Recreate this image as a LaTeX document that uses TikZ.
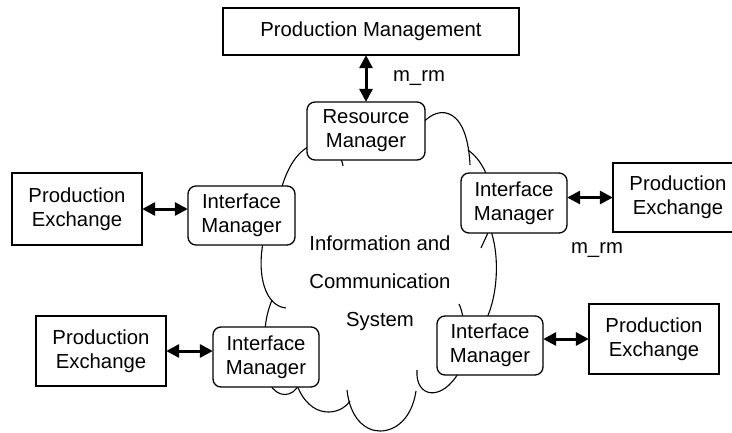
\documentclass[tikz,border=0pt]{standalone}
\usepackage{fontspec}
\setmainfont{Liberation Sans}
\usetikzlibrary{arrows.meta}
\begin{document}
\begin{tikzpicture}[x=1pt,y=-1pt,
  lbl/.style={font=\fontsize{20.3}{24}\selectfont},
  sqbox/.style={draw, line width=1.3pt, fill=white, inner sep=0pt, align=center, lbl},
  rbox/.style={sqbox, rounded corners=8pt},
  arr/.style={line width=3pt, {Triangle[length=13pt,width=13pt]}-{Triangle[length=13pt,width=13pt]}, shorten <=-0.5pt, shorten >=-0.5pt},
  cloudline/.style={line width=1.1pt}]
\useasboundingbox (0,0) rectangle (732,432);
% cloud arcs
\begin{scope}[cloudline]
\draw (420,127) .. controls (433,106) and (467,100) .. (470,165);
\draw (468,150) .. controls (476,156) and (482,163) .. (488,178);
\draw (490,228) .. controls (500,255) and (498,295) .. (486,320);
\draw (481,248) .. controls (483,243) and (486,238) .. (489,230);
\draw (459,304) .. controls (461,308) and (462,312) .. (463,318);
\draw (417,370) .. controls (415,398) and (442,402) .. (459,372);
\draw (347,390) .. controls (350,418) and (365,431) .. (380,431) .. controls (396,431) and (412,418) .. (416,391);
\draw (350,401) .. controls (340,416) and (310,420) .. (297,385);
\draw (270,384) .. controls (277,398) and (293,398) .. (299,384);
\draw (272,300) .. controls (268,310) and (266,318) .. (265,330);
\draw (263,243) .. controls (257,275) and (265,306) .. (286,308);
\draw (281,190) .. controls (287,168) and (297,152) .. (310,146);
\draw (341,159) .. controls (342,162) and (343,164) .. (343,166);
\end{scope}
\node[lbl, align=center, font=\fontsize{20.3}{38}\selectfont] (ics) at (380,283) {Information and\\Communication\\System};
% boxes
\node[sqbox, minimum width=296pt, minimum height=47pt] (pm) at (371,31.5) {Production Management};
\node[rbox, minimum width=118pt, minimum height=58pt] (rm) at (366,131) {Resource\\Manager};
\node[sqbox, minimum width=130pt, minimum height=72pt] (pe1) at (77,209) {Production\\Exchange};
\node[rbox, minimum width=107pt, minimum height=59pt] (im1) at (241.5,215.5) {Interface\\Manager};
\node[rbox, minimum width=106pt, minimum height=60pt] (im2) at (514,203) {Interface\\Manager};
\node[sqbox, minimum width=130pt, minimum height=69pt] (pe2) at (678,197.5) {Production\\Exchange};
\node[sqbox, minimum width=130pt, minimum height=70pt] (pe3) at (101,351) {Production\\Exchange};
\node[rbox, minimum width=106pt, minimum height=60pt] (im3) at (266,357) {Interface\\Manager};
\node[rbox, minimum width=106pt, minimum height=59pt] (im4) at (490,345.5) {Interface\\Manager};
\node[sqbox, minimum width=130pt, minimum height=70pt] (pe4) at (654,339) {Production\\Exchange};
% labels
\node[lbl] (l1) at (419,78) {m\_rm};
\node[lbl] (l2) at (597,250) {m\_rm};
% arrows
\draw[arr] (rm.north) -- (rm.north |- pm.south);
\draw[arr] (pe1.east) -- (pe1.east -| im1.west);
\draw[arr] (pe2.west) -- (pe2.west -| im2.east);
\draw[arr] (pe3.east) -- (pe3.east -| im3.west);
\draw[arr] (pe4.west) -- (pe4.west -| im4.east);
\end{tikzpicture}
\end{document}
